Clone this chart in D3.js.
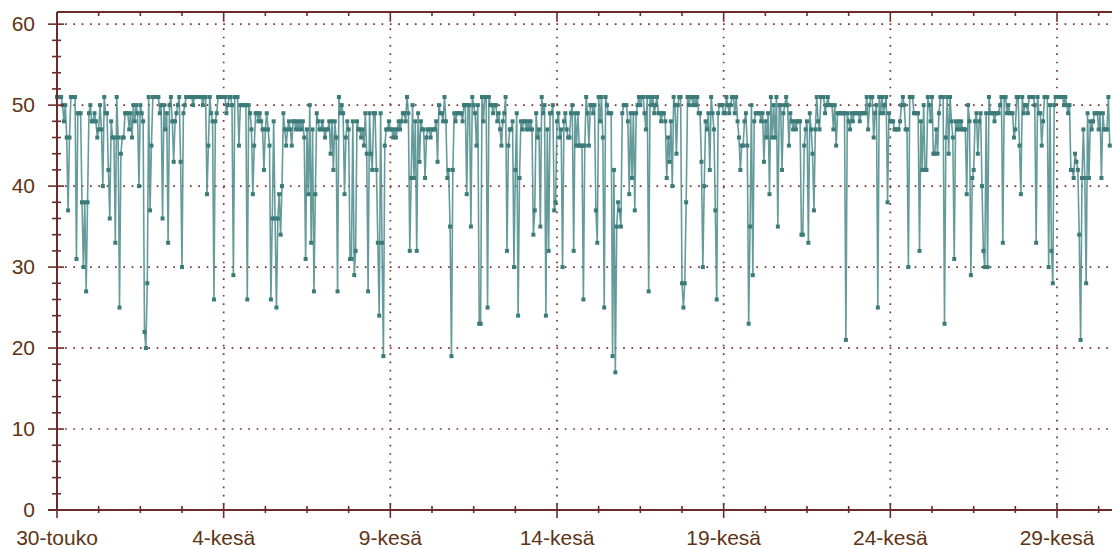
<!DOCTYPE html>
<html><head><meta charset="utf-8">
<script src="https://cdn.jsdelivr.net/npm/d3@7"></script>
<style>body{margin:0;background:#fff}svg{display:block}</style>
</head><body><svg id="c" width="1112" height="549"></svg>
<script>
// hourly readings, starting 30-touko 00:00
const values = [
51,51,51,51,50,48,50,46,37,46,51,51,51,51,31,49,49,49,38,30,38,27,38,49,
50,48,48,49,48,46,47,50,47,40,51,49,49,42,36,48,46,46,33,51,46,25,44,46,
46,49,49,49,47,49,46,50,48,50,49,40,50,49,48,22,20,28,51,37,45,51,51,51,
51,51,49,50,36,50,47,49,33,50,51,48,43,48,49,50,51,43,30,49,50,51,51,51,
51,51,50,51,51,51,51,51,51,50,51,51,39,45,51,49,48,26,48,49,51,51,51,51,
51,51,49,50,51,51,50,29,51,51,51,45,50,50,50,50,50,26,50,49,47,39,45,49,
49,48,49,48,47,42,47,49,47,45,26,36,48,36,25,36,39,34,40,49,47,45,47,48,
47,45,48,48,47,48,47,48,47,48,46,31,47,39,50,33,47,27,39,49,48,47,47,48,
47,46,47,47,48,44,48,42,48,46,27,51,49,50,49,39,46,48,47,31,31,48,29,32,
48,47,47,46,47,45,49,44,27,49,44,42,49,49,42,33,24,49,33,19,45,47,47,48,
47,47,46,47,46,47,48,47,48,49,49,48,51,49,32,41,50,41,48,32,49,43,48,47,
47,41,46,47,47,46,47,47,47,48,43,50,49,49,48,51,48,41,42,35,19,42,49,48,
49,49,49,49,48,50,50,39,50,50,35,51,50,49,45,50,23,23,51,48,51,51,25,51,
50,50,49,50,50,48,49,47,45,48,49,51,32,45,47,47,48,30,42,49,24,41,48,47,
48,48,47,48,47,48,47,34,37,49,46,47,35,51,49,50,24,47,32,49,49,50,37,38,
48,49,46,47,30,48,49,47,46,46,49,50,32,49,45,49,45,45,45,26,45,51,49,45,
50,50,49,50,37,33,51,48,51,46,25,51,50,49,49,49,19,42,17,35,38,37,35,49,
50,50,50,48,39,49,41,49,37,49,50,51,50,51,51,49,47,51,27,51,50,51,49,50,
51,49,49,48,49,49,48,41,46,43,48,40,51,50,44,50,51,51,28,25,28,38,51,50,
51,51,50,51,50,51,49,49,43,30,40,48,47,49,42,51,49,47,37,26,49,50,50,50,
49,49,51,50,49,50,51,51,49,51,48,46,42,45,45,48,49,45,23,35,50,29,48,49,
49,49,49,48,49,43,48,46,49,39,51,46,50,46,51,35,50,50,42,49,50,51,50,45,
49,48,47,48,47,48,48,48,34,34,45,47,48,33,49,47,44,37,47,51,48,47,51,51,
51,49,50,51,50,50,50,47,50,45,49,49,49,49,49,49,21,49,48,47,49,48,49,49,
49,49,48,49,49,49,49,51,47,50,51,51,46,49,50,25,51,49,51,49,50,51,38,49,
48,48,48,47,47,47,47,48,50,51,50,47,47,30,51,51,51,49,49,49,49,32,48,42,
50,42,42,51,50,48,51,44,44,47,44,49,51,51,51,23,46,51,44,51,48,46,31,48,
47,48,47,48,47,47,47,39,50,48,29,41,42,48,49,44,48,49,40,32,30,49,30,51,
49,49,49,48,49,49,49,50,51,33,51,51,49,50,49,49,49,46,47,51,51,45,39,51,
49,50,50,49,51,51,51,51,50,33,51,49,49,45,48,51,51,51,30,50,32,28,50,51,
51,51,51,51,51,50,51,50,49,50,42,42,41,44,43,42,34,21,41,47,41,28,49,41,
48,47,48,49,49,49,47,49,41,49,47,47,47,51,45
];
const xTickDays = [0,5,10,15,20,25,30];
const xTickLabels = ["30-touko","4-kesä","9-kesä","14-kesä","19-kesä","24-kesä","29-kesä"];
const yTicks = [0,10,20,30,40,50,60];

const svg = d3.select("#c");
const L = 57, R = 1112, T = 12, B = 510;
const x = d3.scaleLinear().domain([0, 759.6]).range([L, R]); // hours
const y = d3.scaleLinear().domain([0, 61.5]).range([B, T]);
const axisColor = "#6b2b2b", gridColor = "#7e3030", textColor = "#5e3414";
const lineColor = "#4a8a88", markColor = "#3b7b79";

// grid
const grid = svg.append("g").attr("stroke", gridColor).attr("stroke-width", 1.7)
  .attr("stroke-dasharray", "1.7,6.63");
yTicks.filter(v => v > 0).forEach(v => {
  grid.append("line").attr("x1", L + 8).attr("x2", R).attr("y1", y(v)).attr("y2", y(v));
});
xTickDays.filter(d => d > 0).forEach(d => {
  grid.append("line").attr("x1", x(d * 24)).attr("x2", x(d * 24)).attr("y1", T + 8).attr("y2", B);
});

// data line + markers
const line = d3.line().x((d, i) => x(i)).y(d => y(d));
svg.append("path").datum(values).attr("d", line).attr("fill", "none")
  .attr("stroke", lineColor).attr("stroke-width", 1.6).attr("stroke-opacity", 0.85);
svg.append("g").selectAll("rect").data(values).join("rect")
  .attr("x", (d, i) => x(i) - 2).attr("y", d => y(d) - 2)
  .attr("width", 4).attr("height", 4).attr("fill", markColor);

// frame
const ax = svg.append("g").attr("stroke", axisColor);
ax.append("line").attr("x1", L).attr("x2", L).attr("y1", T).attr("y2", B).attr("stroke-width", 2);
ax.append("line").attr("x1", L).attr("x2", R).attr("y1", T).attr("y2", T).attr("stroke-width", 2);
ax.append("line").attr("x1", L - 9).attr("x2", R).attr("y1", B).attr("y2", B).attr("stroke-width", 2);

// y ticks
d3.range(0, 61, 2).forEach(v => {
  const major = v % 10 === 0;
  ax.append("line").attr("stroke-width", 1.6)
    .attr("x1", major ? L - 9 : L - 5).attr("x2", major ? L + 7 : L + 4)
    .attr("y1", y(v)).attr("y2", y(v));
});
// x ticks (every 1.25 days)
d3.range(0, 31.6, 1.25).forEach(d => {
  const major = Math.abs(d % 5) < 1e-6;
  const xx = x(d * 24);
  ax.append("line").attr("stroke-width", 1.6).attr("x1", xx).attr("x2", xx)
    .attr("y1", major ? B - 7 : B - 4).attr("y2", major ? B + 8 : B + 3);
  ax.append("line").attr("stroke-width", 1.6).attr("x1", xx).attr("x2", xx)
    .attr("y1", T).attr("y2", major ? T + 8 : T + 4);
});

// labels
const font = "'Liberation Sans', Arial, sans-serif";
svg.append("g").selectAll("text").data(yTicks).join("text")
  .attr("x", 35).attr("y", d => y(d) + 7).attr("text-anchor", "end")
  .attr("font-family", font).attr("font-size", 21).attr("fill", textColor).text(d => d);
svg.append("g").selectAll("text").data(xTickDays).join("text")
  .attr("x", d => x(d * 24)).attr("y", 545).attr("text-anchor", "middle")
  .attr("font-family", font).attr("font-size", 21).attr("fill", textColor)
  .text((d, i) => xTickLabels[i]);
</script></body></html>
